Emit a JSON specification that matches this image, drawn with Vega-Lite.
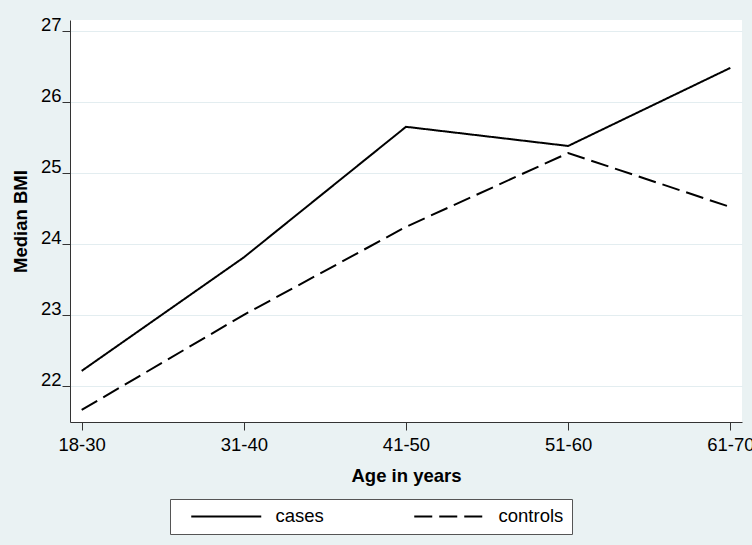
{
  "$schema": "https://vega.github.io/schema/vega-lite/v6.json",
  "autosize": "none",
  "width": 672,
  "height": 402,
  "padding": {"left": 70, "top": 20, "right": 10, "bottom": 123},
  "background": "#EAF2F3",
  "config": {
    "view": {"fill": "white", "stroke": null},
    "font": "Liberation Sans"
  },
  "data": {
    "values": [
      {"age": "18-30", "group": "cases", "bmi": 22.21},
      {"age": "31-40", "group": "cases", "bmi": 23.81},
      {"age": "41-50", "group": "cases", "bmi": 25.65},
      {"age": "51-60", "group": "cases", "bmi": 25.38},
      {"age": "61-70", "group": "cases", "bmi": 26.48},
      {"age": "18-30", "group": "controls", "bmi": 21.66},
      {"age": "31-40", "group": "controls", "bmi": 23.0},
      {"age": "41-50", "group": "controls", "bmi": 24.24},
      {"age": "51-60", "group": "controls", "bmi": 25.28},
      {"age": "61-70", "group": "controls", "bmi": 24.52}
    ]
  },
  "mark": {"type": "line", "color": "black", "strokeWidth": 2},
  "encoding": {
    "x": {
      "field": "age", "type": "ordinal", "sort": null,
      "scale": {"type": "point", "padding": 0.072},
      "axis": {
        "title": "Age in years", "titleFontSize": 18.5, "titleFontWeight": "bold", "titleColor": "black",
        "titlePadding": 13,
        "labelAngle": 0, "labelFontSize": 18.5, "labelColor": "black", "labelPadding": 5,
        "tickSize": 8, "tickColor": "#333", "domainColor": "#333", "grid": false
      }
    },
    "y": {
      "field": "bmi", "type": "quantitative",
      "scale": {"domain": [21.49, 27.155], "nice": false, "zero": false},
      "axis": {
        "title": "Median BMI", "titleFontSize": 18.5, "titleFontWeight": "bold", "titleColor": "black",
        "titlePadding": 10,
        "values": [22, 23, 24, 25, 26, 27],
        "labelFontSize": 18.5, "labelColor": "black", "labelPadding": 1, "labelBaseline": "alphabetic",
        "tickSize": 8, "tickColor": "#333", "domainColor": "#333",
        "grid": true, "gridColor": "#E3EDF0", "gridWidth": 1
      }
    },
    "strokeDash": {
      "field": "group", "type": "nominal",
      "scale": {"domain": ["cases", "controls"], "range": [[1, 0], [18, 7]]},
      "legend": {
        "title": null, "orient": "none", "direction": "horizontal",
        "legendX": 100, "legendY": 479,
        "fillColor": "white", "strokeColor": "#555", "padding": 8,
        "symbolType": "M-5,0H5", "symbolSize": 196, "symbolStrokeWidth": 2, "symbolStrokeColor": "black",
        "symbolOffset": 39,
        "labelFontSize": 18.5, "labelColor": "black", "labelOffset": 40,
        "columnPadding": 77
      }
    }
  }
}
